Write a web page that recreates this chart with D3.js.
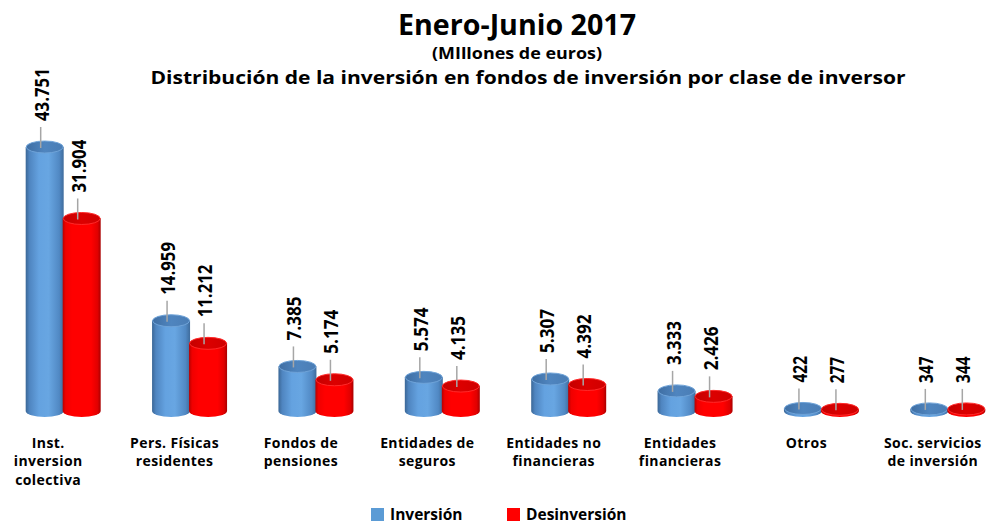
<!DOCTYPE html>
<html>
<head>
<meta charset="utf-8">
<script src="https://cdn.jsdelivr.net/npm/d3@7"></script>
<style>
  html, body { margin: 0; padding: 0; background: #fff; }
  svg { display: block; }
  text { font-family: "Open Sans", "DejaVu Sans", sans-serif; font-weight: bold; fill: #000; }
</style>
</head>
<body>
<div id="chart"></div>
<script>
// categories (each label split on lines)
const categories = [
  ['Inst.', 'inversion', 'colectiva'],
  ['Pers. Físicas', 'residentes'],
  ['Fondos de', 'pensiones'],
  ['Entidades de', 'seguros'],
  ['Entidades no', 'financieras'],
  ['Entidades', 'financieras'],
  ['Otros'],
  ['Soc. servicios', 'de inversión']
];
const seriesNames = ['Inversión', 'Desinversión'];
const inversion = [43751, 14959, 7385, 5574, 5307, 3333, 422, 347];
const desinversion = [31904, 11212, 5174, 4135, 4392, 2426, 277, 344];

const width = 988, height = 526;
const layout = { baseline: 411, top: 147, barWidth: 38, ry: 6 };

const fmt = d3.formatLocale({ decimal: ',', thousands: '.', grouping: [3], currency: ['', ' €'] }).format(',d');

const svg = d3.select('#chart').append('svg')
  .attr('width', width)
  .attr('height', height);

// gradients for the cylinder look
const defs = svg.append('defs');
function hGradient(id, stops) {
  const g = defs.append('linearGradient').attr('id', id)
    .attr('x1', '0%').attr('x2', '100%').attr('y1', '0%').attr('y2', '0%');
  stops.forEach(([o, c]) => g.append('stop').attr('offset', o).attr('stop-color', c));
}
hGradient('blueBody', [['0%', '#3b6796'], ['10%', '#4f85c0'], ['35%', '#64a2e0'], ['60%', '#68a6e2'], ['88%', '#5189c4'], ['100%', '#3f6c9c']]);
hGradient('blueTop', [['0%', '#3f6ea3'], ['50%', '#4f85bf'], ['100%', '#4a7db5']]);
hGradient('redBody', [['0%', '#b80000'], ['8%', '#f00000'], ['25%', '#ff0000'], ['75%', '#ff0000'], ['92%', '#e00000'], ['100%', '#a80000']]);
hGradient('redTop', [['0%', '#c40000'], ['50%', '#dc0000'], ['100%', '#cf0000']]);

const seriesStyle = [
  { body: 'url(#blueBody)', top: 'url(#blueTop)', rim: '#6fa3d8', legend: '#5b9bd5', values: inversion },
  { body: 'url(#redBody)', top: 'url(#redTop)', rim: '#ff2a2a', legend: '#ff0000', values: desinversion }
];

const x0 = d3.scaleBand()
  .domain(d3.range(categories.length))
  .range([0, 1011])
  .padding(0);

const x1 = d3.scaleBand()
  .domain(seriesNames)
  .range([-37, 37])
  .padding(0);

const y = d3.scaleLinear()
  .domain([0, d3.max(inversion)])
  .range([layout.baseline, layout.top]);

// title
svg.append('text').attr('x', 517).attr('y', 35).attr('text-anchor', 'middle')
  .style('font-size', '29px').attr('textLength', 238).attr('lengthAdjust', 'spacingAndGlyphs')
  .text('Enero-Junio 2017');
svg.append('text').attr('x', 517).attr('y', 59).attr('text-anchor', 'middle')
  .style('font-size', '16px').attr('textLength', 170).attr('lengthAdjust', 'spacingAndGlyphs')
  .text('(MIllones de euros)');
svg.append('text').attr('x', 528).attr('y', 84).attr('text-anchor', 'middle')
  .style('font-size', '18px').attr('textLength', 755).attr('lengthAdjust', 'spacingAndGlyphs')
  .text('Distribución de la inversión en fondos de inversión por clase de inversor');

// bars
const groups = svg.append('g').selectAll('g.group')
  .data(categories)
  .join('g')
  .attr('class', 'group')
  .attr('transform', (d, i) => `translate(${x0(i) + x0.bandwidth() / 2},0)`);

seriesNames.forEach((name, s) => {
  const st = seriesStyle[s];
  const rx = layout.barWidth / 2;
  const ry = layout.ry;
  const cyl = groups.append('g').attr('class', 'cyl series-' + s)
    .attr('transform', `translate(${x1(name) + x1.bandwidth() / 2},0)`);

  cyl.append('path')
    .attr('d', (d, i) => {
      const yt = y(st.values[i]);
      const yb = layout.baseline;
      return `M${-rx},${yt} L${-rx},${yb} A${rx},${ry} 0 0 0 ${rx},${yb} L${rx},${yt} Z`;
    })
    .attr('fill', st.body);

  cyl.append('ellipse')
    .attr('cx', 0)
    .attr('cy', (d, i) => y(st.values[i]))
    .attr('rx', rx - 0.5)
    .attr('ry', ry)
    .attr('fill', st.top)
    .attr('stroke', st.rim)
    .attr('stroke-width', 1);

  // leader line and value label
  cyl.append('line')
    .attr('x1', -4).attr('x2', -4)
    .attr('y1', (d, i) => y(st.values[i]) + 1)
    .attr('y2', (d, i) => y(st.values[i]) - 20)
    .attr('stroke', '#a6a6a6')
    .attr('stroke-width', 1.5);

  cyl.append('text')
    .attr('class', 'value')
    .attr('transform', (d, i) => `translate(-3,${y(st.values[i]) - 26}) rotate(-90)`)
    .attr('dominant-baseline', 'central')
    .style('font-size', '19px')
    .attr('textLength', (d, i) => fmt(st.values[i]).length * 8.8)
    .attr('lengthAdjust', 'spacingAndGlyphs')
    .text((d, i) => fmt(st.values[i]));
});

// category labels, one text per line
groups.append('g')
  .attr('transform', 'translate(-15,0)')
  .selectAll('text')
  .data(d => d)
  .join('text')
  .attr('text-anchor', 'middle')
  .style('font-size', '14px')
  .style('letter-spacing', '0.4px')
  .attr('x', 0)
  .attr('y', (d, j) => 448 + j * 18.3)
  .text(d => d);

// legend
const legend = svg.append('g').attr('class', 'legend');
const legendX = [371, 507];
seriesNames.forEach((name, s) => {
  legend.append('rect')
    .attr('x', legendX[s]).attr('y', 508)
    .attr('width', 13).attr('height', 13)
    .attr('fill', seriesStyle[s].legend);
  legend.append('text')
    .attr('x', legendX[s] + 19).attr('y', 520)
    .style('font-size', '15.5px')
    .text(name);
});
</script>
</body>
</html>
